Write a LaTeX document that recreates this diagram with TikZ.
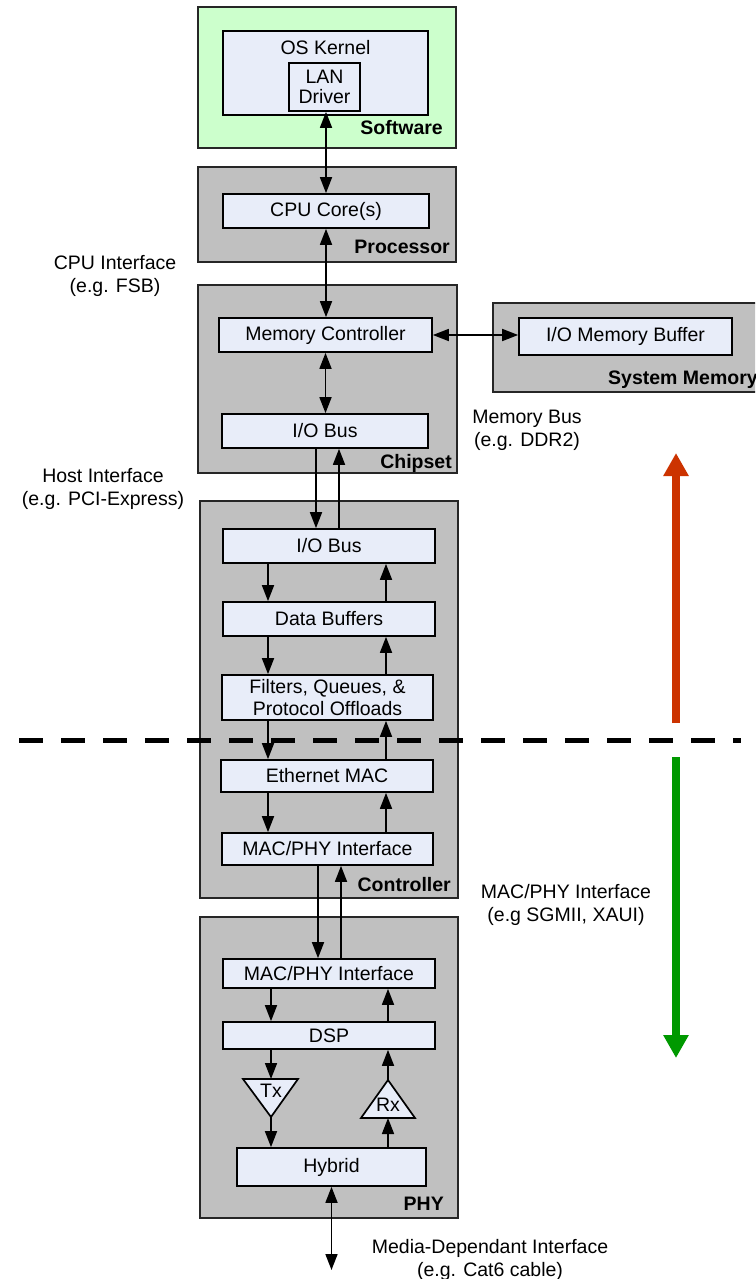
\documentclass[tikz,border=0pt]{standalone}
\usepackage{fontspec}
\setmainfont{Liberation Sans}
\usetikzlibrary{arrows.meta}
\definecolor{grayfill}{HTML}{C0C0C0}
\definecolor{ibfill}{HTML}{E8EDF9}
\definecolor{swgreen}{HTML}{CCFFCC}
\definecolor{upred}{HTML}{CC3300}
\definecolor{downgreen}{HTML}{009900}
\begin{document}
\begin{tikzpicture}[x=1pt,y=-1pt,
  every node/.style={font=\fontsize{19.5}{23}\selectfont, inner sep=0pt},
  outer/.style={draw=black!85, line width=1.7pt, fill=grayfill},
  ibox/.style={draw, line width=1.7pt, fill=ibfill, align=center},
  lbl/.style={font=\bfseries\fontsize{19.5}{23}\selectfont},
  txt/.style={align=center},
  arr/.style={line width=1.7pt, -{Triangle[length=16pt,width=12pt]}},
  darr/.style={line width=1.7pt, {Triangle[length=16pt,width=12pt]}-{Triangle[length=16pt,width=12pt]}},
  bigarr/.style={line width=8pt, -{Triangle[length=23pt,width=24pt]}}
]
\clip (0,0) rectangle (755,1279);
\fill[white] (0,0) rectangle (755,1279);

% outer boxes
\node[outer, fill=swgreen, minimum width=258pt, minimum height=141pt] (sw) at (327,77.5) {};
\node[outer, minimum width=258pt, minimum height=95pt] (proc) at (327,214.5) {};
\node[outer, minimum width=259pt, minimum height=188pt] (chip) at (327.5,379) {};
\node[outer, minimum width=277pt, minimum height=89pt] (sysmem) at (631.5,347.5) {};
\node[outer, minimum width=258pt, minimum height=397pt] (ctrl) at (329,699.5) {};
\node[outer, minimum width=258pt, minimum height=301pt] (phy) at (329,1067.5) {};

% inner boxes
\node[ibox, minimum width=205pt, minimum height=84pt] (os) at (325.5,73) {};
\node (oslbl) at (325.5,48) {OS Kernel};
\node[ibox, minimum width=71pt, minimum height=48pt] (lan) at (324.5,87) {LAN\\[-3pt]Driver};
\node[ibox, minimum width=206pt, minimum height=34pt] (cpu) at (326,211) {CPU Core(s)};
\node[ibox, minimum width=213pt, minimum height=34pt] (mc) at (325.5,335) {Memory Controller};
\node[ibox, minimum width=206pt, minimum height=34pt] (cio) at (325,431) {I/O Bus};
\node[ibox, minimum width=213pt, minimum height=37pt] (iomb) at (625.5,336.5) {I/O Memory Buffer};
\node[ibox, minimum width=212pt, minimum height=34pt] (kio) at (329,546) {I/O Bus};
\node[ibox, minimum width=212pt, minimum height=34pt] (db) at (329,619) {Data Buffers};
\node[ibox, minimum width=211pt, minimum height=45pt] (flt) at (327.5,697.5) {Filters, Queues, \&\\[-1pt]Protocol Offloads};
\node[ibox, minimum width=212pt, minimum height=32pt] (mac) at (327,776) {Ethernet MAC};
\node[ibox, minimum width=211pt, minimum height=32pt] (kmp) at (327.5,849) {MAC/PHY Interface};
\node[ibox, minimum width=212pt, minimum height=29pt] (pmp) at (329,973.5) {MAC/PHY Interface};
\node[ibox, minimum width=212pt, minimum height=27pt] (dsp) at (329,1035.5) {DSP};
\node[ibox, minimum width=189pt, minimum height=38pt] (hyb) at (331.5,1167) {Hybrid};

% Tx / Rx triangles
\draw[line width=1.7pt, fill=ibfill] (243,1079) -- (298,1079) -- (271,1117) -- cycle;
\coordinate (txtop) at (271,1079);
\coordinate (txbot) at (271,1117);
\node (tx) at (271,1091) {Tx};
\draw[line width=1.7pt, fill=ibfill] (361,1118) -- (415,1118) -- (388,1080) -- cycle;
\coordinate (rxtop) at (388,1080);
\coordinate (rxbot) at (388,1118);
\node (rx) at (388,1105) {Rx};

% x positions of vertical connectors
\coordinate (xa) at (316,0);
\coordinate (xb) at (339,0);
\coordinate (xl) at (268,0);
\coordinate (xr) at (386,0);
\coordinate (xc) at (318,0);
\coordinate (xd) at (341,0);
\coordinate (pl) at (271,0);
\coordinate (pr) at (388,0);
\coordinate (cable) at (331.5,1270);

% connectors
\draw[darr] (cpu.north) -- (cpu.north |- lan.south);
\draw[darr] (cpu.south) -- (cpu.south |- mc.north);
\draw[darr] (mc.south) -- (mc.south |- cio.north);
\draw[darr] (mc.east) -- (mc.east -| iomb.west);
\draw[arr] (xa |- cio.south) -- (xa |- kio.north);
\draw[arr] (xb |- kio.north) -- (xb |- cio.south);
\draw[arr] (xl |- kio.south) -- (xl |- db.north);
\draw[arr] (xr |- db.north) -- (xr |- kio.south);
\draw[arr] (xl |- db.south) -- (xl |- flt.north);
\draw[arr] (xr |- flt.north) -- (xr |- db.south);
\draw[arr] (xl |- flt.south) -- (xl |- mac.north);
\draw[arr] (xr |- mac.north) -- (xr |- flt.south);
\draw[arr] (xl |- mac.south) -- (xl |- kmp.north);
\draw[arr] (xr |- kmp.north) -- (xr |- mac.south);
\draw[arr] (xc |- kmp.south) -- (xc |- pmp.north);
\draw[arr] (xd |- pmp.north) -- (xd |- kmp.south);
\draw[arr] (pl |- pmp.south) -- (pl |- dsp.north);
\draw[arr] (pr |- dsp.north) -- (pr |- pmp.south);
\draw[arr] (pl |- dsp.south) -- (txtop);
\draw[arr] (txbot) -- (pl |- hyb.north);
\draw[arr] (pr |- hyb.north) -- (rxbot);
\draw[arr] (rxtop) -- (pr |- dsp.south);
\draw[darr] (hyb.south) -- (cable);

% bold labels
\node[lbl, anchor=base east] (swl) at (443,135) {Software};
\node[lbl, anchor=base east] (procl) at (450,253) {Processor};
\node[lbl, anchor=base east] (chipl) at (452,468) {Chipset};
\node[lbl, anchor=base west] (sysl) at (608,384) {System Memory};
\node[lbl, anchor=base east] (ctrll) at (451,891) {Controller};
\node[lbl, anchor=base east] (phyl) at (444,1210) {PHY};

% side labels
\node[txt] (cpuif) at (115,275.5) {CPU Interface\\(e.g. FSB)};
\node[txt] (hostif) at (103,488.5) {Host Interface\\(e.g. PCI-Express)};
\node[txt] (membus) at (527,430.5) {Memory Bus\\(e.g. DDR2)};
\node[txt] (macphyif) at (566,905) {MAC/PHY Interface\\(e.g SGMII, XAUI)};
\node[txt] (mdi) at (490,1260) {Media-Dependant Interface\\(e.g. Cat6 cable)};

% dashed divider
\coordinate (dl) at (19,740);
\coordinate (dr) at (741,740);
\draw[line width=5pt, dash pattern=on 24pt off 18pt] (dl) -- (dr);

% big arrows
\coordinate (ra) at (676,723);
\coordinate (rb) at (676,453);
\draw[bigarr, upred] (ra) -- (rb);
\coordinate (ga) at (676,757);
\coordinate (gb) at (676,1058);
\draw[bigarr, downgreen] (ga) -- (gb);
\end{tikzpicture}
\end{document}
